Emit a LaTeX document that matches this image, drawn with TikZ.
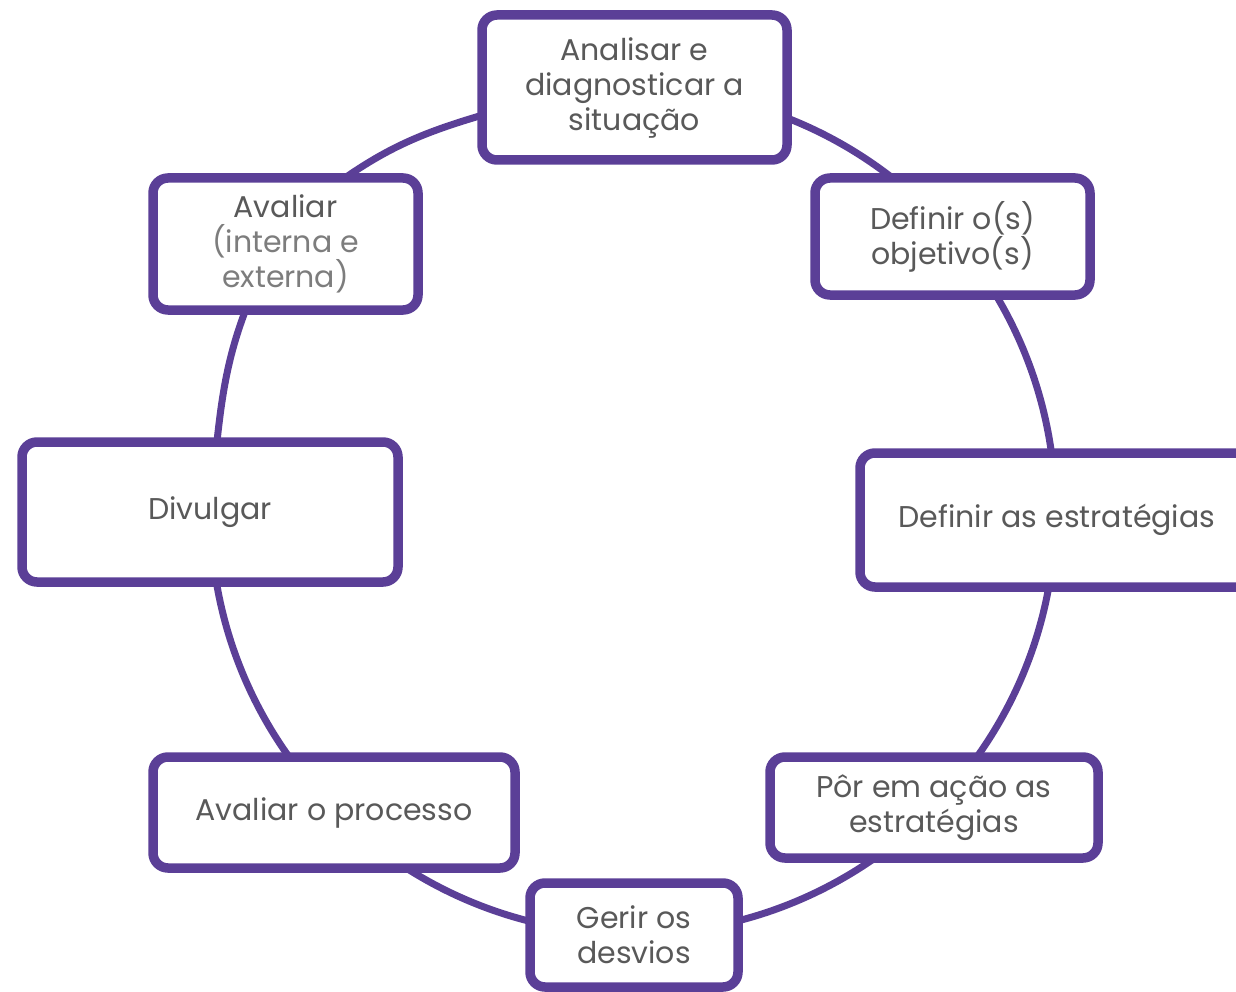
\documentclass[tikz,border=0pt]{standalone}
\usepackage{fontspec}
\setmainfont{Poppins}
\definecolor{ringpurple}{RGB}{91,63,151}
\definecolor{labelgray}{RGB}{89,89,89}
\definecolor{notegray}{RGB}{125,125,125}
\begin{document}
\begin{tikzpicture}[x=1pt,y=1pt,
  ring/.style={draw=ringpurple, line width=7pt},
  stage/.style={draw=ringpurple, line width=9.5pt, fill=white,
    rounded corners=15pt, inner sep=0pt, align=center, text=labelgray,
    font=\fontsize{30}{35}\selectfont},
]
\useasboundingbox (0,0) rectangle (1236,-992);
\clip (0,0) rectangle (1236,-992);

% the cycle ring, drawn behind the stage boxes
\coordinate (O) at (633,-511.5);
\draw[ring] (O) ++(90:422.5) arc[start angle=90, end angle=-180, radius=422.5];
% the upper-left part bends out towards the "Avaliar" box
\draw[ring] (212,-490) to[out=84,in=246] (256,-285);
\draw[ring] (335,-185) to[out=36,in=196] (500,-110);

% stages of the cycle
\node[stage, minimum width=305pt, minimum height=145pt] (analisar) at (634.5,-87.5)
  {Analisar e\\diagnosticar a\\situação};
\node[stage, minimum width=275pt, minimum height=117pt] (objetivos) at (952.5,-236.5)
  {Definir o(s)\\objetivo(s)};
\node[stage, minimum width=394pt, minimum height=134pt] (estrategias) at (1057,-520)
  {Definir as estratégias};
\node[stage, minimum width=328pt, minimum height=101pt] (acao) at (934,-807.5)
  {Pôr em ação as\\estratégias};
\node[stage, minimum width=208pt, minimum height=104pt] (desvios) at (634,-935)
  {Gerir os\\desvios};
\node[stage, minimum width=362pt, minimum height=111pt] (processo) at (334,-812.5)
  {Avaliar o processo};
\node[stage, minimum width=376pt, minimum height=140pt] (divulgar) at (210,-512)
  {Divulgar};
\node[stage, minimum width=265pt, minimum height=132pt] (avaliar) at (285.5,-244)
  {Avaliar\\{\color{notegray}(interna e}\\{\color{notegray}externa)}};
\end{tikzpicture}
\end{document}
